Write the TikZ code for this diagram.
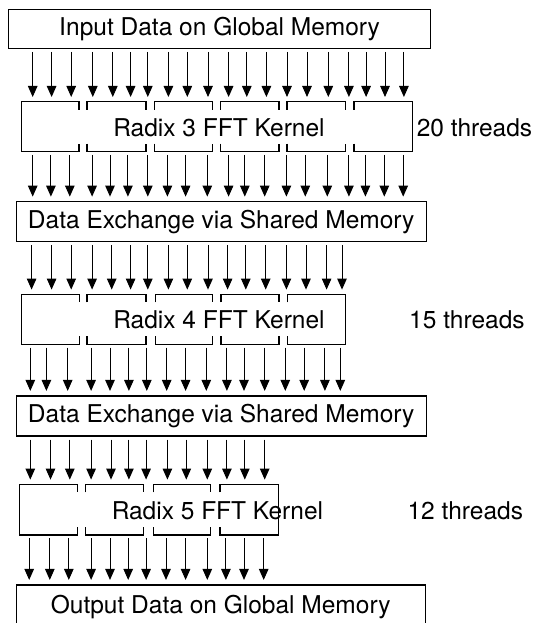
\documentclass[tikz,border=0pt]{standalone}
\usepackage{fontspec}
\setmainfont{TeX Gyre Heros}
\usetikzlibrary{arrows.meta}

\tikzset{
  labelfont/.style={font=\fontsize{24.5}{29}\selectfont},
  stage/.style={draw, line width=1.15pt, rectangle, inner sep=0pt, labelfont},
  kernbox/.style={rectangle, inner sep=0pt},
  kernlabel/.style={inner sep=0pt, labelfont},
  threadlabel/.style={anchor=west, inner sep=0pt, labelfont},
  outline/.style={line width=1.15pt, line join=miter},
  flow/.style={-{Triangle[width=9.5pt,length=11pt]}, line width=1pt,
    shorten <=3pt, shorten >=4.5pt}
}

% draws the broken outline of one FFT kernel: top y, bottom y, list of left/right block edges
\newcommand{\kerneloutline}[3]{%
  \foreach \l/\r in {#3} {
    \draw[outline] (\l,#1+8) -- (\l,#1) -- (\r,#1) -- (\r,#1+8);
    \draw[outline] (\l,#2-8) -- (\l,#2) -- (\r,#2) -- (\r,#2-8);
  }
}

\begin{document}
\begin{tikzpicture}[x=1pt,y=-1pt]
\path[use as bounding box] (0,0) rectangle (539,623);
\clip (0,0) rectangle (539,623);

% memory and exchange stages
\node[stage, minimum width=422pt, minimum height=39pt] (in) at (219.6,28.8) {Input Data on Global Memory};
\node[stage, minimum width=410pt, minimum height=40pt] (de1) at (221.2,221.7) {Data Exchange via Shared Memory};
\node[stage, minimum width=410pt, minimum height=40pt] (de2) at (221.2,416) {Data Exchange via Shared Memory};
\node[stage, minimum width=409pt, minimum height=44pt] (out) at (220.7,607) {Output Data on Global Memory};

% kernel areas
\node[kernbox, minimum width=390.8pt, minimum height=50pt] (k3) at (217.1,126.7) {};
\node[kernbox, minimum width=323.8pt, minimum height=50pt] (k4) at (183.6,319.3) {};
\node[kernbox, minimum width=258.8pt, minimum height=50.7pt] (k5) at (149,509.65) {};

\kerneloutline{101.7}{151.7}{21.7/79, 87/146, 154.7/212.4, 220.7/279, 287/345.5, 354/412.5}
\draw[outline] (21.7,101.7) -- (21.7,151.7);
\draw[outline] (412.5,101.7) -- (412.5,151.7);

\kerneloutline{294.3}{344.3}{21.7/79.8, 87/146, 155.7/212.4, 221/279, 287.7/345.5}
\draw[outline] (21.7,294.3) -- (21.7,344.3);
\draw[outline] (345.5,294.3) -- (345.5,344.3);

\kerneloutline{484.3}{535}{19.6/77.3, 85.3/143.7, 153.7/210.4, 220/278.4}
\draw[outline] (19.6,484.3) -- (19.6,535);
\draw[outline] (278.4,484.3) -- (278.4,535);

\node[kernlabel] (k3t) at (219,127.5) {Radix 3 FFT Kernel};
\node[kernlabel] (k4t) at (219,320) {Radix 4 FFT Kernel};
\node[kernlabel] (k5t) at (217.4,510.5) {Radix 5 FFT Kernel};

\node[threadlabel] (t3) at (416.6,127.5) {20 threads};
\node[threadlabel] (t4) at (409,320) {15 threads};
\node[threadlabel] (t5) at (407.4,510.5) {12 threads};

% data flow between stages
\foreach \x in {32.7,51.6,71.2,92.8,112.8,130.6,147.8,168.4,187.3,208,228.6,246.8,266.4,287,307,328.3,348.9,366.1,385,403.9} {
  \coordinate (c) at (\x,0);
  \draw[flow] (in.south -| c) -- (k3.north -| c);
}
\foreach \x in {32.7,50.9,69.8,92.1,110,127.9,147.8,167.4,185.6,207.3,228.6,244.8,264.7,286.4,305.3,327.3,348.9,365.4,384.3,403.2} {
  \coordinate (c) at (\x,0);
  \draw[flow] (k3.south -| c) -- (de1.north -| c);
}
\foreach \x in {31.6,51.6,71.2,92.1,111.7,130.6,147.8,168.4,187.3,208,227.6,245.8,265.7,286.4,306,326.6,342} {
  \coordinate (c) at (\x,0);
  \draw[flow] (de1.south -| c) -- (k4.north -| c);
}
\foreach \x in {30.3,46.4,67.7,91.1,110,128.9,146.8,166.7,185.6,206.3,226.9,244,264.7,285.3,304.2,324.9,340.3} {
  \coordinate (c) at (\x,0);
  \draw[flow] (k4.south -| c) -- (de2.north -| c);
}
\foreach \x in {30.3,50.5,69.8,91.1,111,128.9,146.1,167.4,186.3,207.3,226.9,244.8,264.7} {
  \coordinate (c) at (\x,0);
  \draw[flow] (de2.south -| c) -- (k5.north -| c);
}
\foreach \x in {29.2,49.8,68.8,91.1,110,128.2,146.1,166,185.6,207.3,225.9,244,263.7} {
  \coordinate (c) at (\x,0);
  \draw[flow] (k5.south -| c) -- (out.north -| c);
}
\end{tikzpicture}
\end{document}
